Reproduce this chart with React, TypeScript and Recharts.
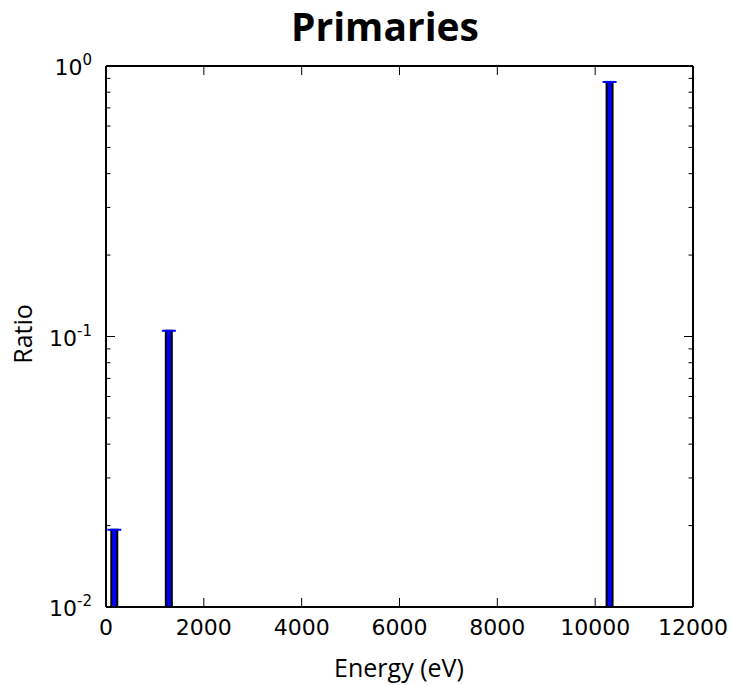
import React from "react"
import { ComposedChart, Bar, XAxis, YAxis } from "recharts"

// values
const energies = [175, 1290, 10300]
const ratios = [0.0193, 0.105, 0.873]

const xTicks = [0, 2000, 4000, 6000, 8000, 10000, 12000]
const yTicks = [
  0.01, 0.02, 0.03, 0.04, 0.05, 0.06, 0.07, 0.08, 0.09,
  0.1, 0.2, 0.3, 0.4, 0.5, 0.6, 0.7, 0.8, 0.9, 1,
]
const yMajor = [0.01, 0.1, 1]
const yMajorExp = ["-2", "-1", "0"]

const data = energies.map((e, i) => ({ energy: e, ratio: ratios[i] }))

const W = 732
const H = 685
const LEFT = 106
const RIGHT = 693
const TOP = 66
const BOTTOM = 607

const tickFont = "'DejaVu Sans', sans-serif"
const labelFont = "'Open Sans', sans-serif"

const BottomTick = ({ x, payload }: any) => (
  <g>
    <line x1={x} x2={x} y1={BOTTOM} y2={BOTTOM - 9} stroke="#000" strokeWidth={1} />
    <text x={x} y={635} textAnchor="middle" fontFamily={tickFont} fontSize={22} fill="#000">
      {payload.value}
    </text>
  </g>
)

const TopTick = ({ x }: any) => (
  <line x1={x} x2={x} y1={TOP} y2={TOP + 9} stroke="#000" strokeWidth={1} />
)

const LeftTick = ({ y, payload }: any) => {
  const idx = yMajor.findIndex((v) => Math.abs(v - payload.value) < 1e-9)
  const len = idx >= 0 ? 9 : 4.5
  return (
    <g>
      <line x1={LEFT} x2={LEFT + len} y1={y} y2={y} stroke="#000" strokeWidth={1} />
      {idx >= 0 && (
        <text x={92} y={y + 9} textAnchor="end" fontFamily={tickFont} fontSize={22} fill="#000">
          10
          <tspan dy={-10} fontSize={15}>
            {yMajorExp[idx]}
          </tspan>
        </text>
      )}
    </g>
  )
}

const RightTick = ({ y, payload }: any) => {
  const major = yMajor.some((v) => Math.abs(v - payload.value) < 1e-9)
  const len = major ? 9 : 4.5
  return <line x1={RIGHT} x2={RIGHT - len} y1={y} y2={y} stroke="#000" strokeWidth={1} />
}

// bar with the errorbar cap at its top (matplotlib errorbar with zero error)
const CappedBar = (props: any) => {
  const { x, y, width, height } = props
  const cx = x + width / 2
  return (
    <g>
      <rect x={x} y={y} width={width} height={height} fill="#0000ff" stroke="#000" strokeWidth={2} />
      <line x1={cx - 7} x2={cx + 7} y1={y} y2={y} stroke="#0000ff" strokeWidth={2} />
    </g>
  )
}

export default function App() {
  const axisLine = { stroke: "#000", strokeWidth: 2 }
  return (
    <div style={{ position: "relative", width: W, height: H, background: "#fff" }}>
      <style>{"body{margin:0}"}</style>
      <ComposedChart
        width={W}
        height={H}
        data={data}
        margin={{ top: TOP - 10, right: W - RIGHT - 10, bottom: H - BOTTOM - 30, left: LEFT - 60 }}
      >
        <XAxis
          dataKey="energy"
          type="number"
          domain={[0, 12000]}
          ticks={xTicks}
          interval={0}
          height={30}
          axisLine={axisLine}
          tickLine={false}
          tick={<BottomTick />}
        />
        <XAxis
          xAxisId="top"
          orientation="top"
          dataKey="energy"
          type="number"
          domain={[0, 12000]}
          ticks={xTicks}
          interval={0}
          height={10}
          axisLine={axisLine}
          tickLine={false}
          tick={<TopTick />}
        />
        <YAxis
          type="number"
          scale="log"
          domain={[0.01, 1]}
          allowDataOverflow
          ticks={yTicks}
          interval={0}
          width={60}
          axisLine={axisLine}
          tickLine={false}
          tick={<LeftTick />}
        />
        <YAxis
          yAxisId="right"
          orientation="right"
          type="number"
          scale="log"
          domain={[0.01, 1]}
          allowDataOverflow
          ticks={yTicks}
          interval={0}
          width={10}
          axisLine={axisLine}
          tickLine={false}
          tick={<RightTick />}
        />
        <Bar dataKey="ratio" barSize={6} fill="#0000ff" stroke="#000" strokeWidth={2} shape={<CappedBar />} isAnimationActive={false} />
      </ComposedChart>
      <svg width={W} height={H} style={{ position: "absolute", left: 0, top: 0, pointerEvents: "none" }}>
        <text x={385} y={41} textAnchor="middle" fontFamily={labelFont} fontWeight="bold" fontSize={39} fill="#000">
          Primaries
        </text>
        <text x={399} y={677} textAnchor="middle" fontFamily={labelFont} fontSize={25} fill="#000">
          Energy (eV)
        </text>
        <text x={32} y={334} textAnchor="middle" fontFamily={labelFont} fontSize={25} fill="#000" transform="rotate(-90 32 334)">
          Ratio
        </text>
      </svg>
    </div>
  )
}
